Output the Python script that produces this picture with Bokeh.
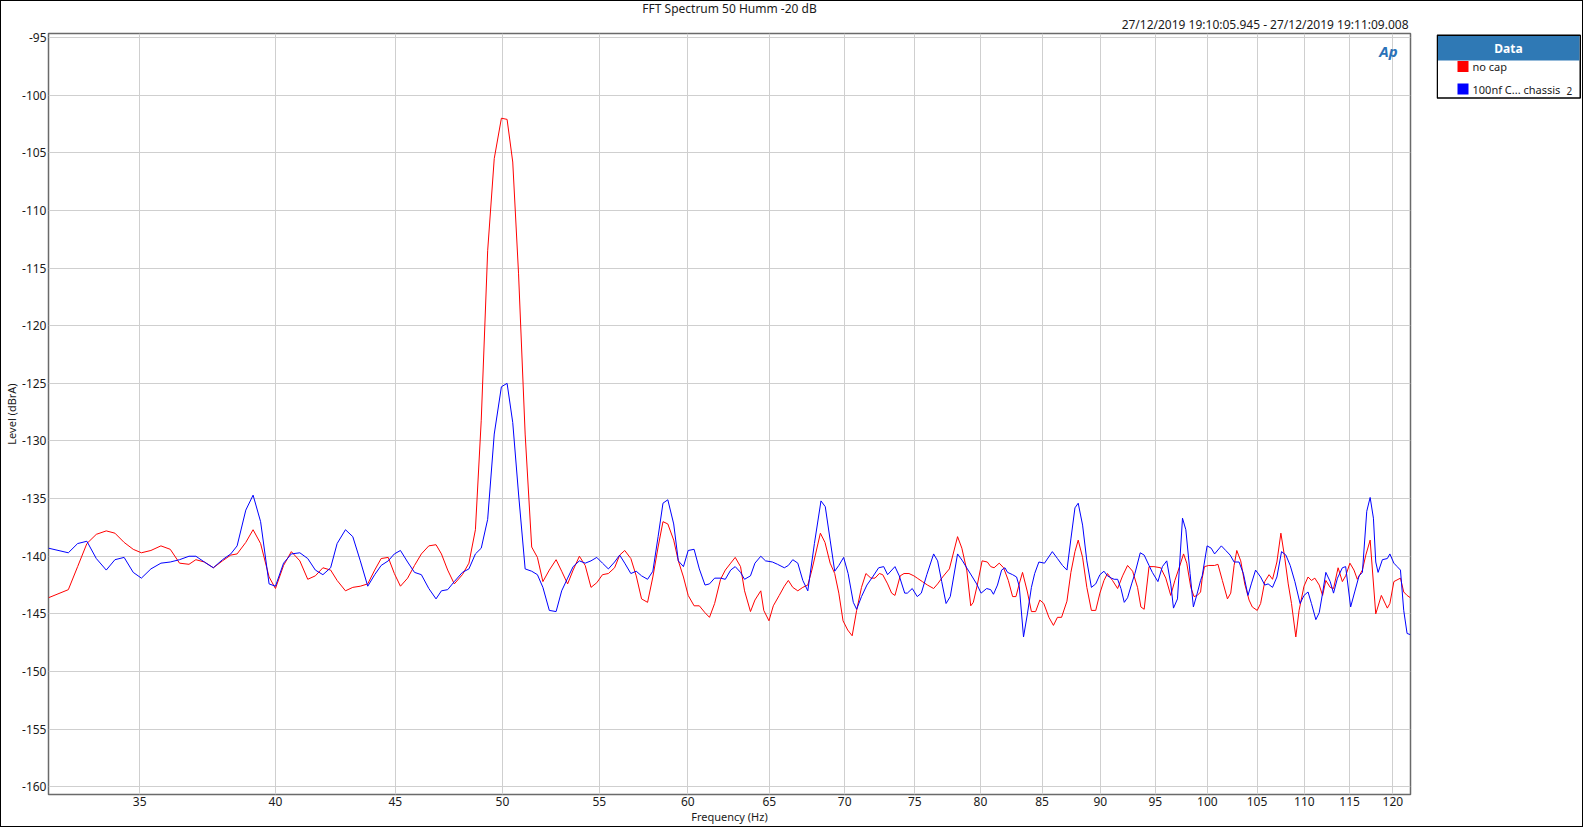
from bokeh.plotting import figure
from bokeh.models import Range1d, FixedTicker, PrintfTickFormatter, Label, Title
from bokeh.layouts import row
from bokeh.embed import file_html
from bokeh.resources import INLINE
from bokeh.core.properties import value

FONT = "Noto Sans"

title_text = "FFT Spectrum 50 Humm -20 dB"
date_text = "27/12/2019 19:10:05.945 - 27/12/2019 19:11:09.008"
x_label = "Frequency (Hz)"
y_label = "Level (dBrA)"
series_names = ["no cap", "100nf C... chassis"]
series_suffix = "2"

x_ticks = [35, 40, 45, 50, 55, 60, 65, 70, 75, 80, 85, 90, 95, 100, 105, 110, 115, 120]
y_ticks = [-95, -100, -105, -110, -115, -120, -125, -130, -135, -140, -145, -150, -155, -160]

red_freq = [32.0, 32.63, 32.93, 33.23, 33.54, 33.87, 34.16, 34.47, 34.78, 35.06, 35.39, 35.74, 36.07, 36.4,
            36.74, 36.99, 37.3, 37.63, 37.97, 38.28, 38.52, 38.85, 39.13, 39.42, 39.75, 40.0, 40.32, 40.63,
            40.97, 41.29, 41.6, 41.91, 42.23, 42.5, 42.85, 43.16, 43.48, 43.8, 44.1, 44.38, 44.69, 44.96,
            45.23, 45.55, 45.86, 46.17, 46.51, 46.84, 47.09, 47.38, 47.69, 48.07, 48.38, 48.69, 48.97, 49.28,
            49.6, 49.95, 50.23, 50.51, 50.8, 51.13, 51.46, 51.75, 52.03, 52.36, 52.71, 53.0, 53.31, 53.6,
            53.93, 54.24, 54.55, 54.86, 55.17, 55.49, 55.83, 56.11, 56.39, 56.73, 57.03, 57.33, 57.67, 57.97,
            58.27, 58.55, 58.83, 59.17, 59.44, 59.74, 60.02, 60.37, 60.68, 61.02, 61.29, 61.6, 61.96, 62.25,
            62.58, 62.86, 63.19, 63.44, 63.81, 64.09, 64.46, 64.65, 64.98, 65.26, 65.64, 65.97, 66.23, 66.52,
            66.85, 67.18, 67.51, 67.78, 68.35, 68.66, 69.01, 69.32, 69.6, 69.89, 70.21, 70.52, 70.83, 71.17,
            71.48, 71.83, 72.12, 72.43, 72.67, 73.02, 73.31, 73.55, 73.93, 74.21, 74.57, 74.93, 75.18, 75.56,
            75.94, 76.4, 76.7, 77.08, 77.59, 78.22, 78.55, 78.93, 79.24, 79.44, 79.75, 80.13, 80.54, 80.81,
            81.08, 81.49, 81.84, 82.22, 82.57, 82.84, 83.11, 83.38, 83.78, 84.11, 84.46, 84.81, 85.14, 85.57,
            85.95, 86.29, 86.64, 87.1, 87.44, 87.79, 88.07, 88.45, 88.82, 89.22, 89.6, 89.97, 90.33, 90.64,
            91.09, 91.55, 92.0, 92.45, 92.91, 93.36, 93.67, 93.97, 94.42, 94.88, 95.51, 95.99, 96.46, 96.85,
            97.26, 97.68, 97.99, 98.38, 98.69, 99.01, 99.33, 99.49, 99.71, 100.13, 100.71, 101.04, 101.48,
            101.99, 102.32, 102.66, 102.93, 103.33, 103.74, 104.18, 104.51, 105.02, 105.37, 105.8, 106.25,
            106.61, 107.07, 107.49, 107.91, 108.27, 108.62, 109.08, 109.43, 109.96, 110.4, 110.77, 111.14,
            111.62, 111.99, 112.35, 112.83, 113.2, 113.71, 114.19, 114.56, 115.04, 115.5, 115.88, 116.46,
            116.85, 117.35, 118.0, 118.65, 119.35, 119.65, 120.12, 120.9, 121.29, 121.69, 122.08]
red_db = [-143.6, -142.9, -140.9, -138.9, -138.1, -137.8, -138.0, -138.8, -139.4, -139.7, -139.5, -139.1, -139.4,
          -140.6, -140.7, -140.3, -140.5, -141.0, -140.4, -139.9, -139.8, -138.8, -137.7, -138.9, -141.8, -142.8,
          -140.8, -139.6, -140.4, -142.0, -141.7, -141.0, -141.2, -142.1, -143.0, -142.7, -142.6, -142.4, -141.2,
          -140.2, -140.1, -141.5, -142.6, -141.9, -140.8, -139.8, -139.1, -139.0, -139.8, -141.2, -142.4, -141.6,
          -140.6, -137.7, -128.2, -113.5, -105.5, -102.0, -102.1, -105.8, -115.5, -129.4, -139.2, -140.1, -142.2,
          -141.2, -140.3, -141.3, -142.4, -141.2, -140.0, -140.8, -142.7, -142.3, -141.6, -141.5, -141.0, -139.9,
          -139.5, -140.2, -141.7, -143.7, -144.0, -141.8, -139.2, -137.0, -137.2, -138.6, -140.4, -141.8, -143.4,
          -144.3, -144.3, -144.9, -145.3, -144.1, -142.0, -141.2, -140.6, -140.1, -140.9, -143.0, -144.8, -143.8,
          -143.0, -144.7, -145.6, -144.3, -143.4, -142.6, -142.1, -142.7, -143.0, -142.7, -142.5, -141.2, -138.0,
          -138.8, -140.6, -141.5, -143.2, -145.6, -146.4, -146.9, -144.7, -142.7, -141.5, -141.9, -141.9, -141.5,
          -141.6, -142.4, -143.2, -143.4, -141.7, -141.5, -141.5, -141.7, -141.9, -142.2, -142.5, -142.8, -142.4,
          -141.8, -141.1, -138.3, -139.3, -141.2, -144.3, -144.0, -142.5, -140.4, -140.5, -140.9, -141.0, -140.6,
          -141.0, -142.1, -143.5, -143.5, -142.4, -141.4, -143.1, -144.8, -144.8, -143.8, -144.1, -145.3, -146.0,
          -145.3, -145.3, -143.9, -141.4, -139.6, -138.6, -140.1, -142.7, -144.7, -144.7, -143.2, -142.1, -141.5,
          -142.1, -142.8, -141.7, -140.8, -141.3, -142.7, -144.4, -144.6, -140.9, -140.9, -141.0, -141.9, -143.4,
          -142.1, -141.0, -139.8, -140.6, -142.7, -143.5, -143.4, -143.1, -141.9, -140.9, -140.8, -140.8, -140.7,
          -142.1, -143.7, -143.2, -140.8, -139.5, -140.4, -142.4, -143.8, -144.4, -144.7, -144.1, -142.2, -141.6,
          -142.0, -140.5, -138.0, -140.2, -142.4, -144.1, -147.0, -144.7, -142.6, -141.8, -142.1, -141.9, -142.5,
          -143.4, -142.1, -142.7, -142.8, -141.0, -142.2, -141.7, -140.6, -141.2, -142.0, -141.2, -139.9, -138.6,
          -145.0, -143.4, -144.5, -144.1, -142.2, -141.9, -143.1, -143.4, -143.6]

blue_freq = [32.0, 32.63, 32.93, 33.23, 33.54, 33.87, 34.16, 34.47, 34.78, 35.06, 35.39, 35.74, 36.07, 36.4,
             36.74, 36.99, 37.3, 37.63, 37.97, 38.28, 38.52, 38.85, 39.13, 39.42, 39.75, 40.0, 40.32, 40.63,
             40.97, 41.29, 41.6, 41.91, 42.23, 42.5, 42.85, 43.16, 43.48, 43.8, 44.1, 44.38, 44.69, 44.96,
             45.23, 45.55, 45.86, 46.17, 46.51, 46.84, 47.09, 47.38, 47.69, 48.07, 48.38, 48.69, 48.97, 49.28,
             49.6, 49.95, 50.23, 50.51, 50.8, 51.13, 51.46, 51.75, 52.03, 52.36, 52.71, 53.0, 53.31, 53.6,
             53.93, 54.24, 54.55, 54.86, 55.17, 55.49, 55.83, 56.11, 56.39, 56.73, 57.03, 57.33, 57.67, 57.97,
             58.27, 58.55, 58.83, 59.17, 59.44, 59.74, 60.02, 60.37, 60.68, 61.02, 61.29, 61.6, 61.96, 62.25,
             62.58, 62.86, 63.19, 63.44, 63.81, 64.09, 64.46, 64.76, 65.2, 65.53, 65.97, 66.23, 66.52, 66.85,
             67.18, 67.51, 67.95, 68.39, 68.68, 69.01, 69.32, 69.6, 69.93, 70.24, 70.6, 70.83, 71.17, 71.55,
             71.95, 72.38, 72.74, 73.02, 73.55, 73.86, 74.26, 74.45, 74.81, 75.18, 75.48, 75.89, 76.4, 76.7,
             77.01, 77.34, 77.66, 78.22, 78.6, 78.98, 79.37, 79.7, 80.05, 80.49, 80.81, 81.03, 81.35, 81.68,
             81.95, 82.16, 82.57, 82.89, 83.11, 83.46, 83.78, 84.11, 84.38, 84.73, 85.2, 85.86, 86.29, 86.72,
             87.1, 87.44, 87.79, 88.07, 88.45, 88.82, 89.22, 89.6, 89.97, 90.33, 90.64, 91.0, 91.24, 91.55,
             91.85, 92.15, 92.45, 92.82, 93.12, 93.61, 93.97, 94.42, 94.73, 95.25, 95.67, 96.08, 96.46, 96.72,
             97.1, 97.58, 97.9, 98.31, 98.63, 99.01, 99.33, 99.49, 99.97, 100.37, 100.71, 101.38, 101.82,
             102.26, 102.66, 103.16, 103.6, 104.07, 104.41, 104.85, 105.37, 105.8, 106.15, 106.61, 107.07,
             107.56, 108.02, 108.48, 108.98, 109.54, 109.96, 110.4, 110.77, 111.25, 111.62, 111.99, 112.35,
             112.83, 113.2, 113.64, 114.19, 114.56, 115.12, 115.58, 116.08, 116.46, 116.96, 117.35, 117.73,
             118.0, 118.27, 118.77, 119.35, 119.65, 120.12, 120.51, 120.9, 121.29, 121.69, 122.08]
blue_db = [-139.3, -139.7, -138.9, -138.7, -140.2, -141.2, -140.3, -140.1, -141.4, -141.9, -141.1, -140.6, -140.5,
           -140.3, -140.0, -140.0, -140.5, -141.0, -140.3, -139.8, -139.1, -136.0, -134.7, -137.0, -142.4, -142.6,
           -140.6, -139.8, -139.7, -140.2, -141.2, -141.6, -141.0, -138.9, -137.7, -138.3, -140.4, -142.6, -141.6,
           -140.8, -140.4, -139.8, -139.5, -140.5, -141.4, -141.6, -142.8, -143.7, -143.0, -142.9, -142.2, -141.4,
           -141.1, -139.8, -139.3, -136.8, -129.4, -125.3, -125.0, -128.4, -134.6, -141.1, -141.3, -141.6, -142.7,
           -144.7, -144.8, -143.0, -141.9, -140.9, -140.4, -140.6, -140.4, -140.1, -140.6, -141.1, -140.5, -139.9,
           -140.6, -141.5, -141.3, -141.7, -142.0, -141.3, -138.3, -135.4, -135.1, -137.2, -140.4, -140.9, -139.5,
           -139.4, -141.1, -142.5, -142.4, -141.9, -141.9, -142.0, -141.2, -140.9, -141.4, -142.0, -141.7, -140.6,
           -140.0, -140.4, -140.5, -140.7, -141.0, -140.8, -140.3, -140.6, -142.1, -143.0, -138.9, -135.2, -135.7,
           -138.6, -141.3, -140.8, -140.1, -141.5, -144.0, -144.6, -143.5, -142.5, -141.8, -141.0, -140.9, -141.6,
           -140.9, -141.7, -143.2, -143.2, -142.8, -143.5, -143.2, -141.6, -139.8, -140.4, -142.2, -144.1, -143.5,
           -139.8, -140.4, -141.1, -141.8, -142.4, -143.2, -142.8, -142.9, -143.3, -142.5, -141.2, -141.0, -141.4,
           -141.6, -141.8, -142.6, -147.0, -145.0, -142.7, -141.5, -140.5, -140.6, -139.6, -140.2, -140.8, -141.2,
           -138.5, -135.8, -135.4, -137.3, -140.4, -142.7, -142.4, -141.6, -141.3, -141.7, -141.9, -142.0, -142.0,
           -142.8, -144.0, -143.6, -142.4, -141.5, -139.7, -139.9, -140.8, -141.4, -142.2, -140.9, -140.4, -142.4,
           -144.5, -143.7, -136.7, -137.7, -141.5, -144.4, -143.2, -142.1, -141.7, -139.1, -139.3, -139.8, -139.1,
           -139.5, -139.9, -140.5, -140.5, -141.5, -143.4, -142.4, -141.2, -141.8, -142.5, -142.4, -142.7, -141.8,
           -139.6, -139.9, -140.8, -142.2, -144.1, -143.4, -143.1, -144.1, -145.5, -144.9, -143.2, -141.4, -142.2,
           -143.2, -141.9, -141.0, -140.9, -144.4, -143.1, -141.7, -141.4, -136.1, -134.9, -136.7, -140.5, -141.4,
           -140.3, -140.2, -139.8, -140.6, -140.9, -141.2, -144.7, -146.7, -146.8]

series_colors = ["#ff0000", "#0000ff"]
header_color = "#2f79b5"

MAIN_W, H = 1435, 825
BL, BR, BT, BB = 47, 26, 32, 32
FW = MAIN_W - BL - BR
FH = H - BT - BB

p = figure(width=MAIN_W, height=H, x_axis_type="log",
           x_range=Range1d(32.0, 122.1), y_range=Range1d(-160.67, -94.65),
           output_backend="svg", toolbar_location=None,
           min_border_left=BL, min_border_right=BR, min_border_top=BT, min_border_bottom=BB,
           background_fill_color="white", border_fill_color="white")
p.outline_line_color = "#6a6a6a"
p.outline_line_width = 1.5

p.xaxis.ticker = FixedTicker(ticks=x_ticks, minor_ticks=[])
p.xaxis.formatter = PrintfTickFormatter(format="%d")
p.yaxis.ticker = FixedTicker(ticks=y_ticks, minor_ticks=[])
p.yaxis.formatter = PrintfTickFormatter(format="%d")
for ax in (p.xaxis, p.yaxis):
    ax.axis_line_color = None
    ax.major_tick_line_color = None
    ax.minor_tick_line_color = None
    ax.major_tick_out = 0
    ax.major_tick_in = 0
    ax.minor_tick_out = 0
    ax.minor_tick_in = 0
    ax.major_label_text_font = FONT
    ax.major_label_text_font_size = "12px"
    ax.major_label_text_color = "#1a1a1a"
    ax.axis_label_text_font = FONT
    ax.axis_label_text_font_size = "11px"
    ax.axis_label_text_font_style = "normal"
    ax.axis_label_text_color = "#1a1a1a"
p.xaxis.axis_label_standoff = 0
p.xaxis.major_label_standoff = 2
p.yaxis.axis_label_standoff = 0
p.yaxis.major_label_standoff = 2
p.xaxis.axis_label = x_label
p.yaxis.axis_label = y_label
p.xgrid.grid_line_color = "#cfcfcf"
p.ygrid.grid_line_color = "#cfcfcf"
p.xgrid.grid_line_width = 1
p.ygrid.grid_line_width = 1

p.line(red_freq, red_db, line_color=series_colors[0], line_width=1)
p.line(blue_freq, blue_db, line_color=series_colors[1], line_width=1)

# main title on top (centred), the date line below it just above the frame (right aligned)
p.title.text = title_text
p.title.align = "center"
p.title.text_font = FONT
p.title.text_font_size = "12px"
p.title.text_font_style = "normal"
p.title.text_color = "#1a1a1a"
p.title.standoff = -8
p.add_layout(Title(text=date_text, align="right", offset=2, text_font=FONT, text_font_size="12px",
                   text_font_style="normal", text_color="#1a1a1a", standoff=2), "above")

p.add_layout(Label(x=FW - 22, y=FH - 17, x_units="screen", y_units="screen", text="Ap",
                   text_align="center", text_baseline="middle", text_font=FONT,
                   text_font_size="15px", text_font_style="bold italic", text_color="#2a72b8"))

# legend panel (its frame shares the main frame's top and bottom; y data = figure pixels)
LW = 146
lg = figure(width=LW, height=H, x_range=Range1d(0, LW), y_range=Range1d(H - BB, BT), title=None,
            output_backend="svg", toolbar_location=None,
            x_axis_location=None, y_axis_location=None,
            min_border_left=0, min_border_right=0, min_border_top=BT, min_border_bottom=BB)
lg.outline_line_color = None
lg.xgrid.visible = False
lg.ygrid.visible = False
lg.quad(left=[0.75], right=[143.75], top=[33.75], bottom=[96.5], fill_color="white",
        line_color="black", line_width=1.5)
lg.quad(left=[1.5], right=[143.0], top=[34.5], bottom=[59], fill_color=header_color, line_color=None)
lg.text(x=[72], y=[47], text=["Data"], text_align="center", text_baseline="middle",
        text_font=value(FONT), text_font_size="12px", text_font_style="bold", text_color="white")
lg.rect(x=[26.5, 26.5], y=[65, 87.5], width=11, height=11, fill_color=series_colors, line_color=None)
lg.text(x=[36, 36], y=[65, 87.5], text=series_names, text_align="left", text_baseline="middle",
        text_font=value(FONT), text_font_size="11px", text_color="#1a1a1a")
lg.text(x=[130], y=[89], text=[series_suffix], text_align="left", text_baseline="middle",
        text_font=value(FONT), text_font_size="10px", text_color="#1a1a1a")

layout = row(p, lg, styles={"border": "1px solid #000000"})
open("out.html", "w").write(file_html(layout, INLINE))
